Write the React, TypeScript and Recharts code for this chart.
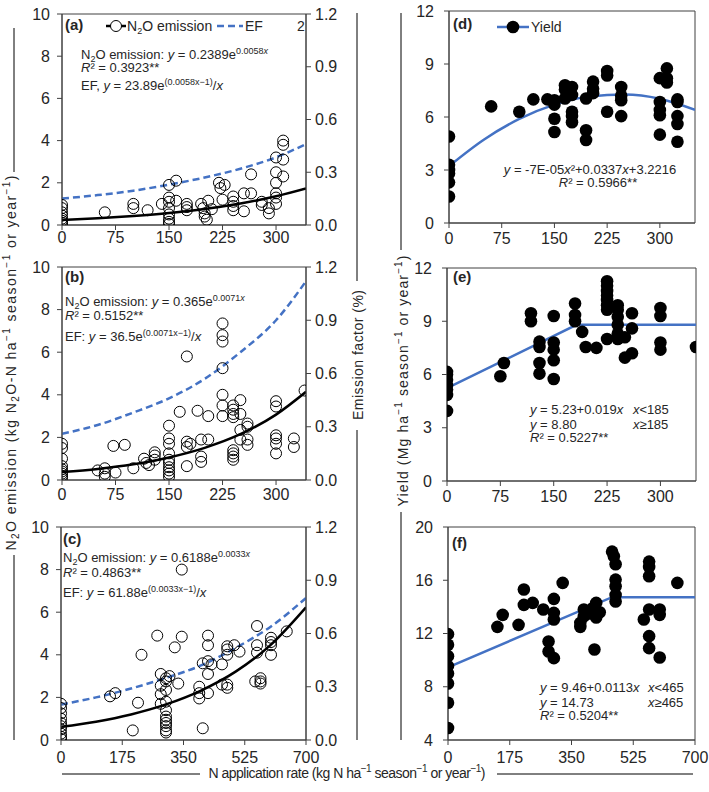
import React from "react";
import {ComposedChart, Scatter, Line, XAxis, YAxis, ReferenceArea} from "recharts";

type Pt = [number, number];

const FONT = "'Liberation Sans', Arial, sans-serif";
const AXIS = "#404040";
const INK = "#262626";
const BLUE = "#4472C4";

// tick labels
const rateTicks = [0, 75, 150, 225, 300];
const rateTicksLong = [0, 175, 350, 525, 700];
const n2oTicks = [0, 2, 4, 6, 8, 10];
const efTicks = [0, 0.3, 0.6, 0.9, 1.2];
const yieldTicks = [0, 3, 6, 9, 12];
const yieldTicksF = [4, 8, 12, 16, 20];

// (a) N2O emission, open circles
const aPoints: Pt[] = [
    [0, 0.95], [0, 0.8], [0, 0.6], [0, 0.45], [0, 0.3], [0, 0.2], [0, 0.1], [0, 0.02],
    [60, 0.6], [100, 1.0], [100, 0.8], [120, 0.7], [140, 1.0],
    [150, 1.9], [150, 1.3], [150, 1.1], [150, 0.8], [150, 0.5], [150, 0.3], [150, 0.15], [150, 0.05],
    [160, 2.1], [160, 1.15], [175, 1.0], [175, 0.85], [175, 0.7],
    [195, 1.0], [198, 0.8], [200, 0.55], [200, 0.4], [203, 0.25], [205, 1.15], [210, 0.75],
    [220, 2.0], [222, 1.75], [228, 1.9], [225, 1.2],
    [240, 1.35], [240, 1.1], [240, 0.9], [240, 0.7], [255, 1.5], [255, 0.65],
    [265, 2.4], [265, 1.5], [280, 1.1], [280, 0.95], [290, 0.8], [290, 0.55],
    [300, 3.2], [300, 2.5], [300, 2.0], [300, 1.5], [300, 1.3], [300, 1.0],
    [310, 4.0], [310, 3.8], [310, 3.1], [310, 2.3],
];
const aCurveX = [0, 50, 100, 150, 200, 250, 300, 342];
const aFit = [0.24, 0.32, 0.43, 0.57, 0.76, 1.02, 1.36, 1.73];
const aEF = [0.15, 0.17, 0.195, 0.23, 0.27, 0.32, 0.385, 0.46];

// (b)
const bPoints: Pt[] = [
    [0, 1.7], [0, 1.5], [0, 1.0], [0, 0.65], [0, 0.5], [0, 0.4], [0, 0.3], [0, 0.2], [0, 0.1],
    [50, 0.45], [60, 0.55], [60, 0.3], [60, 0.15], [75, 0.35], [72, 1.6], [88, 1.65], [100, 0.55],
    [115, 1.0], [118, 0.8], [122, 0.7], [130, 1.3], [130, 1.15], [130, 0.95],
    [150, 2.55], [150, 1.95], [150, 1.7], [150, 1.25], [150, 0.95], [150, 0.8], [150, 0.6], [150, 0.45], [150, 0.3], [150, 0.15],
    [165, 3.2], [175, 5.8], [175, 1.8], [175, 1.55], [175, 0.65], [180, 1.7], [190, 3.25],
    [195, 1.9], [195, 1.1], [195, 0.85], [205, 3.0], [205, 1.9],
    [225, 7.35], [225, 6.8], [225, 6.5], [225, 5.25], [225, 4.0], [225, 3.5], [225, 3.0],
    [240, 3.5], [240, 3.3], [240, 3.1], [240, 2.95], [240, 1.4], [240, 1.25], [240, 1.1], [240, 0.95],
    [250, 3.75], [250, 3.1], [250, 2.35], [250, 1.9],
    [260, 2.65], [260, 2.5], [260, 1.9], [260, 1.65],
    [300, 3.7], [300, 3.45], [300, 2.1], [300, 1.95], [300, 1.7], [300, 1.25],
    [325, 1.95], [325, 1.55], [340, 4.2],
];
const bCurveX = [0, 50, 100, 150, 200, 250, 300, 342];
const bFit = [0.37, 0.52, 0.74, 1.06, 1.51, 2.15, 3.07, 4.14];
const bEF = [0.26, 0.31, 0.38, 0.46, 0.57, 0.72, 0.9, 1.12];

// (c)
const cPoints: Pt[] = [
    [0, 1.7], [0, 1.5], [0, 1.25], [0, 1.0], [0, 0.8], [0, 0.65], [0, 0.5], [0, 0.3], [0, 0.15], [0, 0.05],
    [140, 2.05], [155, 2.2], [205, 0.45], [220, 1.75], [230, 4.0], [275, 4.9],
    [285, 3.1], [285, 2.55], [285, 2.15], [285, 1.7],
    [300, 2.9], [300, 2.75], [300, 2.35], [300, 1.8], [300, 1.4], [300, 1.1], [300, 0.95], [300, 0.8], [300, 0.65], [300, 0.45], [300, 0.35], [310, 3.0],
    [325, 4.35], [335, 2.65], [345, 4.85], [345, 8.0],
    [395, 2.5], [395, 2.2], [395, 1.95], [405, 0.55], [405, 3.6],
    [420, 4.9], [420, 4.45], [420, 3.7], [420, 3.1], [420, 2.2], [430, 3.55],
    [460, 3.55], [460, 2.6], [475, 4.4], [475, 4.25], [475, 4.0], [475, 2.6], [475, 2.45], [495, 4.45], [510, 4.15],
    [555, 2.75], [560, 5.35], [560, 4.45], [560, 4.1], [570, 2.9], [570, 2.75], [570, 2.65],
    [600, 4.8], [600, 4.6], [600, 4.45], [600, 4.0], [645, 5.1],
];
const cCurveX = [0, 100, 200, 300, 400, 500, 600, 700];
const cFit = [0.62, 0.86, 1.2, 1.67, 2.32, 3.22, 4.48, 6.23];
const cEF = [0.2, 0.24, 0.29, 0.35, 0.42, 0.52, 0.64, 0.8];

// (d) yield
const dPoints: Pt[] = [
    [0, 4.9], [0, 3.3], [0, 3.0], [0, 2.8], [0, 2.3], [0, 1.5],
    [60, 6.6], [100, 6.3], [120, 7.0], [140, 7.0],
    [150, 6.95], [150, 6.7], [150, 5.9], [150, 5.15],
    [165, 7.8], [165, 7.55], [165, 7.05],
    [175, 7.7], [175, 7.25], [175, 6.3], [175, 6.05], [175, 5.7],
    [195, 7.05], [195, 5.25], [195, 4.7],
    [205, 8.0], [205, 7.6], [205, 7.35],
    [225, 8.6], [225, 8.35], [225, 6.3],
    [245, 7.7], [245, 7.2], [245, 6.95], [245, 6.05],
    [300, 8.2], [300, 6.85], [300, 6.4], [300, 6.1], [300, 5.0],
    [310, 8.75], [310, 8.2], [310, 7.95],
    [325, 7.0], [325, 6.85], [325, 6.05], [325, 5.6], [325, 4.6],
];
const dCurveX = [0, 50, 100, 150, 200, 250, 300, 350];
const dFit = [3.22, 4.73, 5.89, 6.7, 7.16, 7.27, 7.03, 6.4];

// (e)
const ePoints: Pt[] = [
    [0, 6.15], [0, 6.0], [0, 5.7], [0, 5.4], [0, 5.15], [0, 4.85], [0, 3.95],
    [75, 5.9], [80, 6.65], [118, 9.45], [118, 9.0],
    [130, 7.85], [130, 7.55], [130, 6.65], [130, 6.05],
    [150, 9.3], [150, 7.8], [150, 7.4], [150, 6.8], [150, 5.75],
    [180, 10.0], [180, 9.35], [180, 9.0], [190, 8.4], [195, 7.55], [210, 7.5],
    [225, 11.25], [225, 11.0], [225, 10.7], [225, 10.45], [225, 10.2], [225, 9.9], [225, 9.65], [225, 8.0],
    [240, 9.9], [240, 9.65], [240, 9.25], [240, 8.8], [240, 8.3], [240, 8.0],
    [250, 8.1], [250, 6.95], [260, 9.45], [260, 8.6], [260, 7.2],
    [300, 9.75], [300, 9.3], [300, 7.8], [300, 7.4], [350, 7.55],
];
const eLineX = [0, 182, 350];
const eLine = [5.23, 8.8, 8.8];

// (f)
const fPoints: Pt[] = [
    [0, 11.95], [0, 11.15], [0, 10.3], [0, 9.55], [0, 9.0], [0, 8.25], [0, 6.8], [0, 4.9],
    [140, 12.5], [155, 13.4], [200, 12.65], [215, 15.3], [215, 14.15], [240, 14.3], [270, 13.8],
    [285, 11.4], [285, 10.65], [300, 14.6], [300, 13.55], [300, 13.05], [300, 10.15],
    [325, 15.8], [375, 12.8], [375, 12.5], [385, 13.8], [385, 13.3],
    [400, 13.5], [410, 13.9], [420, 14.3], [420, 13.2], [430, 13.6], [415, 10.8],
    [465, 18.15], [470, 17.8], [475, 17.2], [475, 16.05], [475, 15.55], [475, 14.9], [475, 14.4],
    [555, 13.05], [570, 17.4], [570, 17.0], [570, 16.3], [570, 13.8], [570, 11.8], [570, 10.9],
    [600, 13.8], [600, 13.4], [600, 10.2], [650, 15.8],
];
const fLineX = [0, 465, 700];
const fLine = [9.46, 14.73, 14.73];

const toXY = (pts: Pt[]) => pts.map(([x, y]) => ({x, y}));
const zip = (xs: number[], ys: number[]) => xs.map((x, i) => ({x, y: ys[i]}));

const openDot = (p: any) => <circle cx={p.cx} cy={p.cy} r={5.5} fill="none" stroke="#000" strokeWidth={1}/>;
const fullDot = (p: any) => <circle cx={p.cx} cy={p.cy} r={6.3} fill="#000"/>;

interface PanelProps {
    left: number, top: number, w: number, h: number,
    xMax: number, xTicks: number[], yDomain: [number, number], yTicks: number[],
    xGap: number, yGap: number,
    points: Pt[], filled?: boolean,
    fit: {x: number, y: number}[], fitColor: string, curved: boolean,
    ef?: {x: number, y: number}[],
}

const Panel = ({left, top, w, h, xMax, xTicks, yDomain, yTicks, xGap, yGap, points, filled, fit, fitColor, curved, ef}: PanelProps) => {
    const tick = {fill: INK, fontSize: 16};
    return <div style={{position: "absolute", left: left - 50, top: top - 12}}>
        <ComposedChart width={w + 100} height={h + 42}
                       margin={{top: 12, right: ef ? 10 : 50, bottom: 10, left: 10}}>
            <XAxis type="number" dataKey="x" domain={[0, xMax]} ticks={xTicks} interval={0}
                   allowDataOverflow height={20} tickSize={5} tickMargin={xGap}
                   stroke={AXIS} tick={tick}/>
            <YAxis yAxisId="l" type="number" dataKey="y" domain={yDomain} ticks={yTicks} interval={0}
                   allowDataOverflow width={40} tickSize={5} tickMargin={yGap}
                   stroke={AXIS} tick={tick}/>
            {ef && <YAxis yAxisId="r" orientation="right" type="number" dataKey="y" domain={[0, 1.2]}
                          ticks={efTicks} interval={0} width={40} tickSize={5} tickMargin={4}
                          stroke={AXIS} tick={tick} tickFormatter={(v: number) => v.toFixed(1)}/>}
            <ReferenceArea yAxisId="l" x1={0} x2={xMax} y1={yDomain[0]} y2={yDomain[1]}
                           fill="none" stroke={AXIS} strokeWidth={1}/>
            <Scatter yAxisId="l" data={toXY(points)} dataKey="y" isAnimationActive={false}
                     shape={filled ? fullDot : openDot}/>
            <Line yAxisId="l" data={fit} dataKey="y" type={curved ? "monotone" : "linear"}
                  stroke={fitColor} strokeWidth={2.5} dot={false} activeDot={false}
                  isAnimationActive={false}/>
            {ef && <Line yAxisId="r" data={ef} dataKey="y" type="monotone" stroke={BLUE}
                         strokeWidth={2.5} strokeDasharray="7 4" dot={false} activeDot={false}
                         isAnimationActive={false}/>}
        </ComposedChart>
    </div>;
};

const It = ({children}: {children: React.ReactNode}) => <tspan fontStyle="italic">{children}</tspan>;

// "N2O" with a lowered 2, followed by rest text on the normal baseline
const N2O = ({rest}: {rest: string}) => <>N<tspan dy={3} fontSize={9}>2</tspan><tspan dy={-3}>{rest}</tspan></>;

// title text: parts joined by superscript −1
const Powered = ({parts}: {parts: string[]}) => <>
    {parts.map((p, i) => <React.Fragment key={i}>
        <tspan dy={i === 0 ? 0 : 6}>{p}</tspan>
        {i < parts.length - 1 && <tspan dy={-6} fontSize={10}>−1</tspan>}
    </React.Fragment>)}
</>;

const Overlay = () => {
    const ann = {fontSize: 13, fill: INK};
    const tag = {fontSize: 15, fontWeight: 700, fill: INK};
    return <svg width={709} height={792} style={{position: "absolute", left: 0, top: 0}}>
        {/* axis titles and their side lines */}
        <g stroke="#000" strokeWidth={1}>
            <line x1={14} x2={14} y1={28} y2={172}/>
            <line x1={14} x2={14} y1={555} y2={740}/>
            <line x1={357} x2={357} y1={13} y2={281}/>
            <line x1={357} x2={357} y1={430} y2={740}/>
            <line x1={401} x2={401} y1={13} y2={250}/>
            <line x1={401} x2={401} y1={512} y2={740}/>
            <line x1={62} x2={200} y1={774} y2={774}/>
            <line x1={497} x2={693} y1={774} y2={774}/>
        </g>
        <text transform="translate(16,363) rotate(-90)" textAnchor="middle" fontSize={14} fill={INK}
              textLength={375} lengthAdjust="spacing">
            N<tspan dy={3} fontSize={10}>2</tspan><tspan dy={-3}>O emission (kg N</tspan>
            <tspan dy={3} fontSize={10}>2</tspan><tspan dy={-3}>O-N  ha</tspan>
            <tspan dy={-6} fontSize={10}>−1</tspan><tspan dy={6}> season</tspan>
            <tspan dy={-6} fontSize={10}>−1</tspan><tspan dy={6}> or year</tspan>
            <tspan dy={-6} fontSize={10}>−1</tspan><tspan dy={6}>)</tspan>
        </text>
        <text transform="translate(363,355) rotate(-90)" textAnchor="middle" fontSize={14} fill={INK}
              textLength={130} lengthAdjust="spacing">Emission factor (%)</text>
        <text transform="translate(408,381) rotate(-90)" textAnchor="middle" fontSize={14} fill={INK}
              textLength={251} lengthAdjust="spacing">
            <Powered parts={["Yield (Mg ha", " season", " or year", ")"]}/>
        </text>
        <text x={347} y={778} textAnchor="middle" fontSize={14} fill={INK} textLength={277}
              lengthAdjust="spacing">
            <Powered parts={["N application rate (kg N ha", " season", " or year", ")"]}/>
        </text>

        {/* (a) */}
        <text x={65} y={30} {...tag}>(a)</text>
        <line x1={106} x2={126} y1={26} y2={26} stroke="#000" strokeWidth={2.5}/>
        <circle cx={116} cy={26} r={5.5} fill="#fff" stroke="#000"/>
        <text x={127} y={31} fontSize={14} fill={INK}><N2O rest="O emission"/></text>
        <line x1={217} x2={243} y1={26} y2={26} stroke={BLUE} strokeWidth={2.5} strokeDasharray="7 4"/>
        <text x={245} y={31} fontSize={14} fill={INK}>EF</text>
        <text x={297} y={31} fontSize={14} fill={INK}>2</text>
        <text x={81} y={59} {...ann}><N2O rest="O emission: "/><It>y</It> = 0.2389e<tspan dy={-5} fontSize={9}>0.0058<It>x</It></tspan></text>
        <text x={81} y={72} {...ann}><It>R</It>² = 0.3923**</text>
        <text x={81} y={90} {...ann}>EF, <It>y</It> = 23.89e<tspan dy={-5} fontSize={9}>(0.0058x−1)</tspan><tspan dy={5}>/</tspan><It>x</It></text>

        {/* (b) */}
        <text x={65} y={282} {...tag}>(b)</text>
        <text x={65} y={306} {...ann}><N2O rest="O emission:  "/><It>y</It> = 0.365e<tspan dy={-5} fontSize={9}>0.0071<It>x</It></tspan></text>
        <text x={65} y={320} {...ann}><It>R</It>² = 0.5152**</text>
        <text x={65} y={341} {...ann}>EF: <It>y</It> = 36.5e<tspan dy={-5} fontSize={9}>(0.0071x−1)</tspan><tspan dy={5}>/</tspan><It>x</It></text>

        {/* (c) */}
        <text x={63} y={544} {...tag}>(c)</text>
        <text x={63} y={562} {...ann}><N2O rest="O emission: "/><It>y</It> = 0.6188e<tspan dy={-5} fontSize={9}>0.0033<It>x</It></tspan></text>
        <text x={63} y={577} {...ann}><It>R</It>² = 0.4863**</text>
        <text x={63} y={597} {...ann}>EF: <It>y</It> = 61.88e<tspan dy={-5} fontSize={9}>(0.0033x−1)</tspan><tspan dy={5}>/</tspan><It>x</It></text>

        {/* (d) */}
        <text x={453} y={29} {...tag}>(d)</text>
        <line x1={497} x2={529} y1={27} y2={27} stroke={BLUE} strokeWidth={2.5}/>
        <circle cx={513} cy={27} r={6.3} fill="#000"/>
        <text x={531} y={32} fontSize={14} fill={INK}>Yield</text>
        <text x={590} y={174} textAnchor="middle" {...ann}><It>y</It> = -7E-05<It>x</It>²+0.0337<It>x</It>+3.2216</text>
        <text x={598} y={187} textAnchor="middle" {...ann}><It>R</It>² = 0.5966**</text>

        {/* (e) */}
        <text x={453} y={282} {...tag}>(e)</text>
        <text x={530} y={414} {...ann}><It>y</It> = 5.23+0.019<It>x</It></text>
        <text x={633} y={414} {...ann}><It>x</It>&lt;185</text>
        <text x={530} y={429} {...ann}><It>y</It> = 8.80</text>
        <text x={633} y={429} {...ann}><It>x</It>≥185</text>
        <text x={530} y={442} {...ann}><It>R</It>² = 0.5227**</text>

        {/* (f) */}
        <text x={452} y={548} {...tag}>(f)</text>
        <text x={540} y={692} {...ann}><It>y</It> = 9.46+0.0113<It>x</It></text>
        <text x={648} y={692} {...ann}><It>x</It>&lt;465</text>
        <text x={540} y={707} {...ann}><It>y</It> = 14.73</text>
        <text x={648} y={707} {...ann}><It>x</It>≥465</text>
        <text x={540} y={720} {...ann}><It>R</It>² = 0.5204**</text>
    </svg>;
};

export default function App() {
    return <div style={{position: "absolute", left: 0, top: 0, width: 709, height: 792,
        background: "#fff", fontFamily: FONT, overflow: "hidden"}}>
        <Panel left={62} top={14} w={244} h={211} xMax={342} xTicks={rateTicks} yDomain={[0, 10]}
               yTicks={n2oTicks} xGap={2} yGap={7} points={aPoints} fit={zip(aCurveX, aFit)}
               fitColor="#000" curved ef={zip(aCurveX, aEF)}/>
        <Panel left={62} top={267} w={244} h={213} xMax={342} xTicks={rateTicks} yDomain={[0, 10]}
               yTicks={n2oTicks} xGap={4} yGap={7} points={bPoints} fit={zip(bCurveX, bFit)}
               fitColor="#000" curved ef={zip(bCurveX, bEF)}/>
        <Panel left={61} top={527} w={245} h={213} xMax={700} xTicks={rateTicksLong} yDomain={[0, 10]}
               yTicks={n2oTicks} xGap={7} yGap={7} points={cPoints} fit={zip(cCurveX, cFit)}
               fitColor="#000" curved ef={zip(cCurveX, cEF)}/>
        <Panel left={449} top={11} w={246} h={212} xMax={350} xTicks={rateTicks} yDomain={[0, 12]}
               yTicks={yieldTicks} xGap={5} yGap={10} points={dPoints} filled fit={zip(dCurveX, dFit)}
               fitColor={BLUE} curved/>
        <Panel left={447} top={268} w={249} h={213} xMax={350} xTicks={rateTicks} yDomain={[0, 12]}
               yTicks={yieldTicks} xGap={5} yGap={10} points={ePoints} filled fit={zip(eLineX, eLine)}
               fitColor={BLUE} curved={false}/>
        <Panel left={448} top={527} w={247} h={213} xMax={700} xTicks={rateTicksLong} yDomain={[4, 20]}
               yTicks={yieldTicksF} xGap={7} yGap={10} points={fPoints} filled fit={zip(fLineX, fLine)}
               fitColor={BLUE} curved={false}/>
        <Overlay/>
    </div>;
}
